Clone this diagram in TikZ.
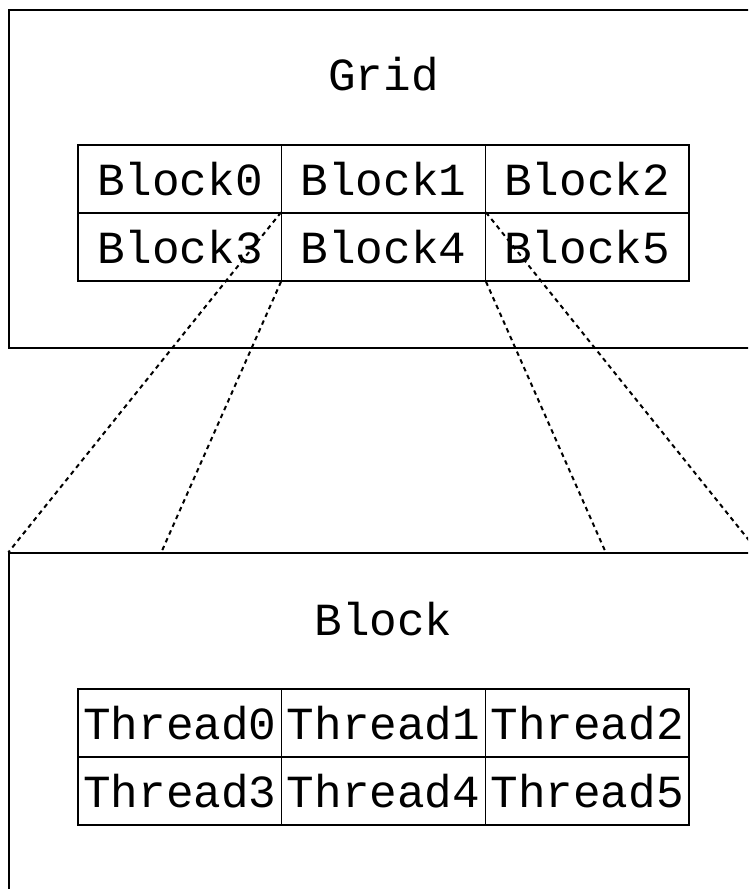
\documentclass[tikz,border=0pt]{standalone}
\usepackage{fontspec}
\setmonofont{Liberation Mono}
\begin{document}
\begin{tikzpicture}[x=1pt, y=-1pt,
    frame/.style={draw, line width=1.3pt, inner sep=0pt, minimum width=749pt},
    cell/.style={draw, line width=1.3pt, inner sep=0pt, minimum width=203.67pt,
        minimum height=68pt, font=\ttfamily\fontsize{46}{50}\selectfont},
    title/.style={anchor=base, inner sep=0pt, font=\ttfamily\fontsize{46}{50}\selectfont},
    zoomline/.style={line width=2pt, dash pattern=on 4.5pt off 4pt}]

    \useasboundingbox (0,0) rectangle (748,889);
    \clip (0,0) rectangle (748,889);

    \node[frame, minimum height=338pt] (gridbox) at (383.5,179) {};
    \node[frame, minimum height=367pt] (blockbox) at (383.5,736.5) {};

    \node[title] (gridlabel) at (383.5,90) {Grid};
    \node[title] (blocklabel) at (383.5,635) {Block};

    \foreach \i in {0,...,5} {
        \pgfmathtruncatemacro\col{mod(\i,3)}
        \pgfmathtruncatemacro\row{\i/3}
        \node[cell] (b\i) at ({179.83+203.67*\col}, {179+68*\row}) {Block\i};
        \node[cell] (t\i) at ({179.83+203.67*\col}, {723+68*\row}) {Thread\i};
    }

    \coordinate (leftfoot) at (161,553);
    \coordinate (rightfoot) at (606,553);

    \draw[zoomline] (b4.north west) -- (blockbox.north west);
    \draw[zoomline] (b4.south west) -- (leftfoot);
    \draw[zoomline] (b4.south east) -- (rightfoot);
    \draw[zoomline] (b4.north east) -- (blockbox.north east);

\end{tikzpicture}
\end{document}
